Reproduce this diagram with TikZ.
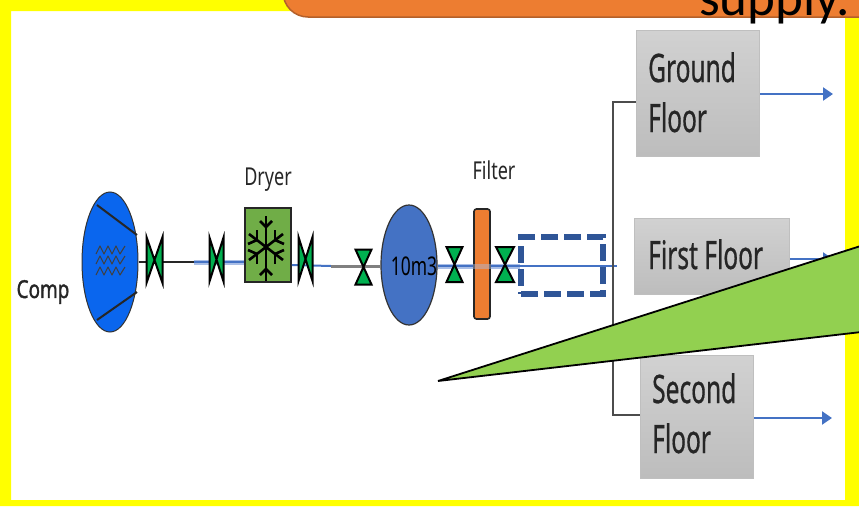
\documentclass[tikz,border=0pt]{standalone}
\usepackage{fontspec}
\setmainfont{Noto Sans}
\newfontfamily\calloutfont{Carlito}
\newfontfamily\heavyfont[FakeBold=1.6]{Noto Sans}
\newfontfamily\midfont[FakeBold=0.7]{Noto Sans}
\usetikzlibrary{arrows.meta,shapes.geometric}
\definecolor{yb}{HTML}{FFFF00}
\definecolor{orangeA}{HTML}{ED7D31}
\definecolor{orangeE}{HTML}{B4602A}
\definecolor{vgreen}{HTML}{00B050}
\definecolor{lgreen}{HTML}{92D050}
\definecolor{dgreen}{HTML}{70AD47}
\definecolor{bright}{HTML}{0A66EE}
\definecolor{tankb}{HTML}{4472C4}
\definecolor{dashb}{HTML}{2F5597}
\definecolor{lightb}{HTML}{A9BEE6}
\newcommand{\tallt}[1]{\scalebox{0.82}[1.12]{#1}}
\newcommand{\floort}[1]{\scalebox{0.70}[1.12]{#1}}
\tikzset{
  x=1pt,y=-1pt,
  anchorpt/.style={inner sep=0pt,minimum size=0pt,outer sep=0pt},
  valveshape/.style={draw=black,line width=2pt,fill=vgreen,line join=miter},
  pipeblack/.style={draw=black!85,line width=2pt},
  pipegrey/.style={draw=black!50,line width=3pt},
  pipethin/.style={draw=tankb,line width=2pt},
  pipewide/.style={draw=lightb,line width=5pt},
  riser/.style={draw=black!70,line width=2pt},
  outarrow/.style={draw=tankb,line width=2.2pt,-{Triangle[length=10pt,width=13pt,fill=tankb]}},
  floorbox/.style={draw=black!25,line width=1.2pt,top color=black!18,bottom color=black!26,
    rectangle,anchor=north west,inner sep=0pt},
  floortext/.style={anchor=base west,inner sep=0pt,text=black!85,font=\midfont\fontsize{35}{35}\selectfont},
  smalllabel/.style={anchor=center,inner sep=0pt,text=black!85,font=\fontsize{22}{24}\selectfont},
}
\newcommand{\valveH}[5]{% name, cx, cy, half w, half h
  \node[anchorpt] (#1) at (#2,#3) {};
  \path[valveshape] (#2-#4,#3-#5) -- (#2+#4,#3+#5) -- (#2+#4,#3-#5) -- (#2-#4,#3+#5) -- cycle;
}
\newcommand{\valveV}[5]{%
  \node[anchorpt] (#1) at (#2,#3) {};
  \path[valveshape] (#2-#4,#3-#5) -- (#2+#4,#3-#5) -- (#2-#4,#3+#5) -- (#2+#4,#3+#5) -- cycle;
}
\begin{document}
\begin{tikzpicture}
\useasboundingbox (0,0) rectangle (859,506);
\clip (0,0) rectangle (859,506);
% frame
\fill[white] (0,0) rectangle (859,506);
\fill[yb,even odd rule] (0,0) rectangle (859,506) (11,11) rectangle (845,500);
% orange banner
\path[fill=orangeA,draw=orangeE,line width=1.5pt] (283,-40) -- (283,-8) arc[start angle=180,end angle=90,radius=25] -- (900,17) -- (900,-40) -- cycle;
\node[anchor=base west,inner sep=0pt,font=\calloutfont\fontsize{53}{53}\selectfont] (supplytext) at (699,16) {supply.};

% equipment nodes
\node[ellipse,draw=black!80,line width=1pt,fill=bright,minimum width=56pt,minimum height=140pt,inner sep=0pt] (comp) at (110,262) {};
\node[rectangle,draw=black!85,line width=1.8pt,fill=dgreen,minimum width=46pt,minimum height=74pt,inner sep=0pt] (dryer) at (268,245) {};
\node[ellipse,draw=black!80,line width=1.2pt,fill=tankb,minimum width=56pt,minimum height=120pt,inner sep=0pt] (tank) at (409,265) {};
\node[floorbox,minimum width=123pt,minimum height=126pt] (ground) at (636,30) {};
\node[floorbox,minimum width=155pt,minimum height=76pt] (first) at (634,218) {};
\node[floorbox,minimum width=113pt,minimum height=123pt] (second) at (640,355) {};

% coordinates for pipe runs
\coordinate (bluestart) at (194,262);
\coordinate (pipeend) at (617,266);
\coordinate (joinA) at (331,266);
\coordinate (wideend) at (520,266);
\coordinate (risertop) at (613,102);
\coordinate (riserbot) at (613,415);
\coordinate (groundin) at (636,102);
\coordinate (secondin) at (640,415);

% pipes
\draw[pipeblack] (comp.east |- 0,262) -- (bluestart);
\draw[pipewide] (bluestart) -- (dryer.west |- 0,262);
\draw[pipethin] (bluestart) -- (dryer.west |- 0,262);
\draw[pipethin] (dryer.east |- 0,265) -- (joinA);
\draw[pipegrey] (joinA) -- (tank.west |- 0,266);
\draw[pipewide] (tank.east |- 0,266) -- (wideend);
\draw[pipethin] (tank.east |- 0,266) -- (pipeend);
\draw[riser] (groundin) -- (risertop) -- (riserbot) -- (secondin);

% compressor details
\draw[black!85,line width=2pt] (97,205) -- (137,235);
\draw[black!85,line width=2pt] (137,292) -- (97,320);
\foreach \yy in {250,260,271}
  \draw[black!75,line width=1.1pt,line join=round] (96,\yy+4) -- (100,\yy-4) -- (104,\yy+4) -- (108,\yy-4) -- (112,\yy+4) -- (116,\yy-4) -- (120,\yy+4) -- (125,\yy-4);

% dryer snowflake
\begin{scope}[shift={(266,247)},line width=2.6pt,draw=black]
  \draw (0,-31) -- (0,34);
  \foreach \s in {-1,1} {
    \draw (\s*17,-13) -- (0,0) -- (\s*17,13);
    \draw (\s*9,-7) -- (\s*9,-17);
    \draw (\s*9,-7) -- (\s*18,-3);
    \draw (\s*9,7) -- (\s*9,17);
    \draw (\s*9,7) -- (\s*18,3);
    \draw (0,-20) -- (\s*6,-26);
    \draw (0,22) -- (\s*6,28);
  }
\end{scope}

% filter
\node[rectangle,rounded corners=2.5pt,draw=black!85,line width=1.6pt,fill=orangeA,minimum width=16pt,minimum height=110pt,inner sep=0pt] (filter) at (482,264) {};
\draw[pipewide,draw opacity=.45] (filter.west |- 0,266) -- (filter.east |- 0,266);

% dashed box
\node[rectangle,draw=dashb,line width=5.5pt,dash pattern=on 17pt off 6pt,minimum width=82pt,minimum height=57pt,inner sep=0pt] (dashbox) at (562,265.5) {};

% valves
\valveH{v1}{154.5}{260}{8}{23}
\valveH{v2}{216.5}{259.5}{7}{22}
\valveH{v3}{305.5}{259}{7}{22}
\valveV{v4}{363.5}{267}{8}{17.5}
\valveV{v5}{454.5}{264.5}{8}{17.5}
\valveV{v6}{505}{264.5}{9}{17.5}

% texts
\node[smalllabel,font=\heavyfont\fontsize{22}{25}\selectfont] (complabel) at (43,292) {\scalebox{0.86}[1.12]{Comp}};
\node[smalllabel] (dryerlabel) at (268,180) {\tallt{Dryer}};
\node[smalllabel] (filterlabel) at (494,170) {\tallt{Filter}};
\node[smalllabel,text=black,font=\fontsize{23}{25}\selectfont] (tanklabel) at (414,266) {\scalebox{0.76}[1.12]{10m3}};
\node[floortext] (t1) at (648,82) {\floort{Ground}};
\node[floortext] (t2) at (648,132) {\floort{Floor}};
\node[floortext] (t3) at (648,269) {\floort{First Floor}};
\node[floortext] (t4) at (652,403) {\floort{Second}};
\node[floortext] (t5) at (652,453) {\floort{Floor}};

% outlets
\coordinate (o1) at (833,94);
\coordinate (o2) at (833,259);
\coordinate (o3) at (832,418);
\draw[outarrow] (ground.east |- o1) -- (o1);
\draw[outarrow] (first.east |- o2) -- (o2);
\draw[outarrow] (second.east |- o3) -- (o3);

% callout
\path[fill=lgreen,draw=black,line width=1.8pt,line join=miter] (438,381) -- (870,243) -- (870,331) -- cycle;
\end{tikzpicture}
\end{document}
